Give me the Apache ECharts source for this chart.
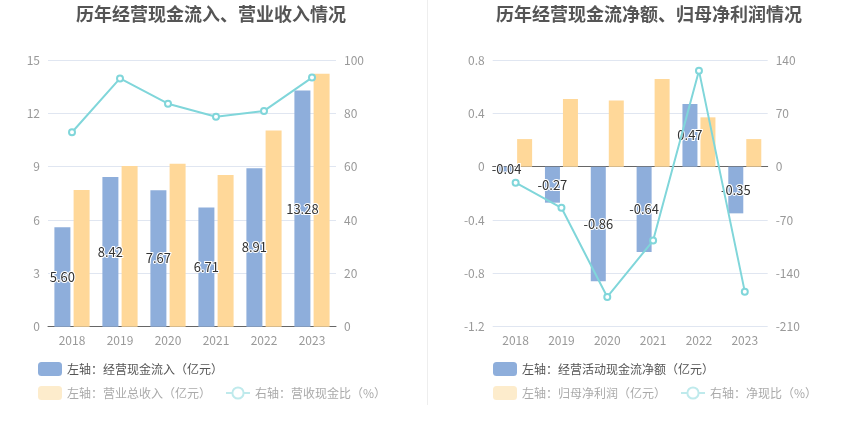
<!DOCTYPE html>
<html><head><meta charset="utf-8">
<script src="https://cdn.jsdelivr.net/npm/echarts@6/dist/echarts.min.js"></script>
<style>html,body{margin:0;padding:0;background:#fff}#c{width:850px;height:437px}</style>
</head><body><div id="c"></div>
<script>
const years = ['2018','2019','2020','2021','2022','2023'];
// left chart
const cashInflow = [5.60, 8.42, 7.67, 6.71, 8.91, 13.28];
const revenue = [7.69, 9.04, 9.17, 8.53, 11.04, 14.23];
const cashRatio = [72.9, 93.1, 83.6, 78.7, 80.9, 93.4];
const leftTicksL = [0, 15, 3];
const leftTicksR = [0, 100, 20];
// right chart
const netCashFlow = [-0.04, -0.27, -0.86, -0.64, 0.47, -0.35];
const netProfit = [0.207, 0.507, 0.497, 0.657, 0.37, 0.207];
const netRatio = [-21, -54, -171, -97, 126, -164];
const rightTicksL = [-1.2, 0.8, 0.4];
const rightTicksR = [-210, 140, 70];

const FONT = '"Noto Sans CJK SC", "Microsoft YaHei", sans-serif';
const BLUE = '#8eaedb', ORANGE = '#ffd899', CYAN = '#80d6da', CYAN_L = '#bfeaec';
const chart = echarts.init(document.getElementById('c'));
const labelCommon = {show:true, position:'inside', color:'#333', fontSize:13, fontFamily:FONT, textBorderColor:'#fff', textBorderWidth:2};
const axisLabel = {color:'#999', fontSize:12, fontFamily:FONT};
const split = {lineStyle:{color:'#e0e6f1'}};
function valAxis(grid, t, pos, showSplit){
  return {type:'value', gridIndex:grid, position:pos, min:t[0], max:t[1], interval:t[2],
    axisLine:{show:false}, axisTick:{show:false}, axisLabel:axisLabel,
    splitLine:{show:showSplit, lineStyle:split.lineStyle}};
}
chart.setOption({
  animation:false,
  textStyle:{fontFamily:FONT},
  title:[
    {text:'历年经营现金流入、营业收入情况', left:206, top:0, textAlign:'center', textStyle:{fontSize:18, fontWeight:'bold', color:'#555', fontFamily:FONT}},
    {text:'历年经营现金流净额、归母净利润情况', left:644, top:0, textAlign:'center', textStyle:{fontSize:18, fontWeight:'bold', color:'#555', fontFamily:FONT}}
  ],
  graphic:[{type:'line', shape:{x1:427.5,y1:0,x2:427.5,y2:405}, style:{stroke:'#eeeeee', lineWidth:1}}],
  grid:[
    {left:48, top:60, width:288, height:266.7},
    {left:492.7, top:60, width:275, height:266.7}
  ],
  xAxis:[
    {type:'category', gridIndex:0, data:years, axisLine:{lineStyle:{color:'#666'}}, axisTick:{alignWithLabel:true, lineStyle:{color:'#666'}}, axisLabel:axisLabel},
    {type:'category', gridIndex:1, data:years, axisLine:{onZero:true, onZeroAxisIndex:2, lineStyle:{color:'#666'}}, axisTick:{alignWithLabel:true, lineStyle:{color:'#666'}}, axisLabel:{show:false}},
    {type:'category', gridIndex:1, data:years, position:'bottom', axisLine:{show:false, onZero:false}, axisTick:{show:false}, axisLabel:axisLabel}
  ],
  yAxis:[
    valAxis(0, leftTicksL, 'left', true),
    valAxis(0, leftTicksR, 'right', false),
    valAxis(1, rightTicksL, 'left', true),
    valAxis(1, rightTicksR, 'right', false)
  ],
  legend:[
    {left:33, top:357, itemWidth:24, itemHeight:14, data:['左轴：经营现金流入（亿元）'], textStyle:{color:'#555', fontSize:12, fontFamily:FONT}},
    {left:33, top:381, itemWidth:24, itemHeight:14, itemGap:14, data:[
      {name:'左轴：营业总收入（亿元）', itemStyle:{color:'#fdeccc'}},
      {name:'右轴：营收现金比（%）', itemStyle:{color:CYAN_L, borderColor:CYAN_L, borderWidth:2}, lineStyle:{color:CYAN_L, width:2}}
    ], textStyle:{color:'#aaa', fontSize:12, fontFamily:FONT}},
    {left:488, top:357, itemWidth:24, itemHeight:14, data:['左轴：经营活动现金流净额（亿元）'], textStyle:{color:'#555', fontSize:12, fontFamily:FONT}},
    {left:488, top:381, itemWidth:24, itemHeight:14, itemGap:14, data:[
      {name:'左轴：归母净利润（亿元）', itemStyle:{color:'#fdeccc'}},
      {name:'右轴：净现比（%）', itemStyle:{color:CYAN_L, borderColor:CYAN_L, borderWidth:2}, lineStyle:{color:CYAN_L, width:2}}
    ], textStyle:{color:'#aaa', fontSize:12, fontFamily:FONT}}
  ],
  series:[
    {name:'左轴：经营现金流入（亿元）', type:'bar', xAxisIndex:0, yAxisIndex:0, data:cashInflow, barWidth:16, barGap:'20%', itemStyle:{color:BLUE}, label:Object.assign({}, labelCommon, {formatter:p=>p.value.toFixed(2)})},
    {name:'左轴：营业总收入（亿元）', type:'bar', xAxisIndex:0, yAxisIndex:0, data:revenue, barWidth:16, barGap:'20%', itemStyle:{color:ORANGE}},
    {name:'右轴：营收现金比（%）', type:'line', xAxisIndex:0, yAxisIndex:1, data:cashRatio, symbol:'emptyCircle', symbolSize:6, lineStyle:{color:CYAN, width:2}, itemStyle:{color:CYAN}, z:5},
    {name:'左轴：经营活动现金流净额（亿元）', type:'bar', xAxisIndex:1, yAxisIndex:2, data:netCashFlow, barWidth:15, barGap:'20%', itemStyle:{color:BLUE}, label:Object.assign({}, labelCommon, {formatter:p=>p.value.toFixed(2)})},
    {name:'左轴：归母净利润（亿元）', type:'bar', xAxisIndex:1, yAxisIndex:2, data:netProfit, barWidth:15, barGap:'20%', itemStyle:{color:ORANGE}},
    {name:'右轴：净现比（%）', type:'line', xAxisIndex:1, yAxisIndex:3, data:netRatio, symbol:'emptyCircle', symbolSize:6, lineStyle:{color:CYAN, width:2}, itemStyle:{color:CYAN}, z:5}
  ]
});
</script></body></html>
